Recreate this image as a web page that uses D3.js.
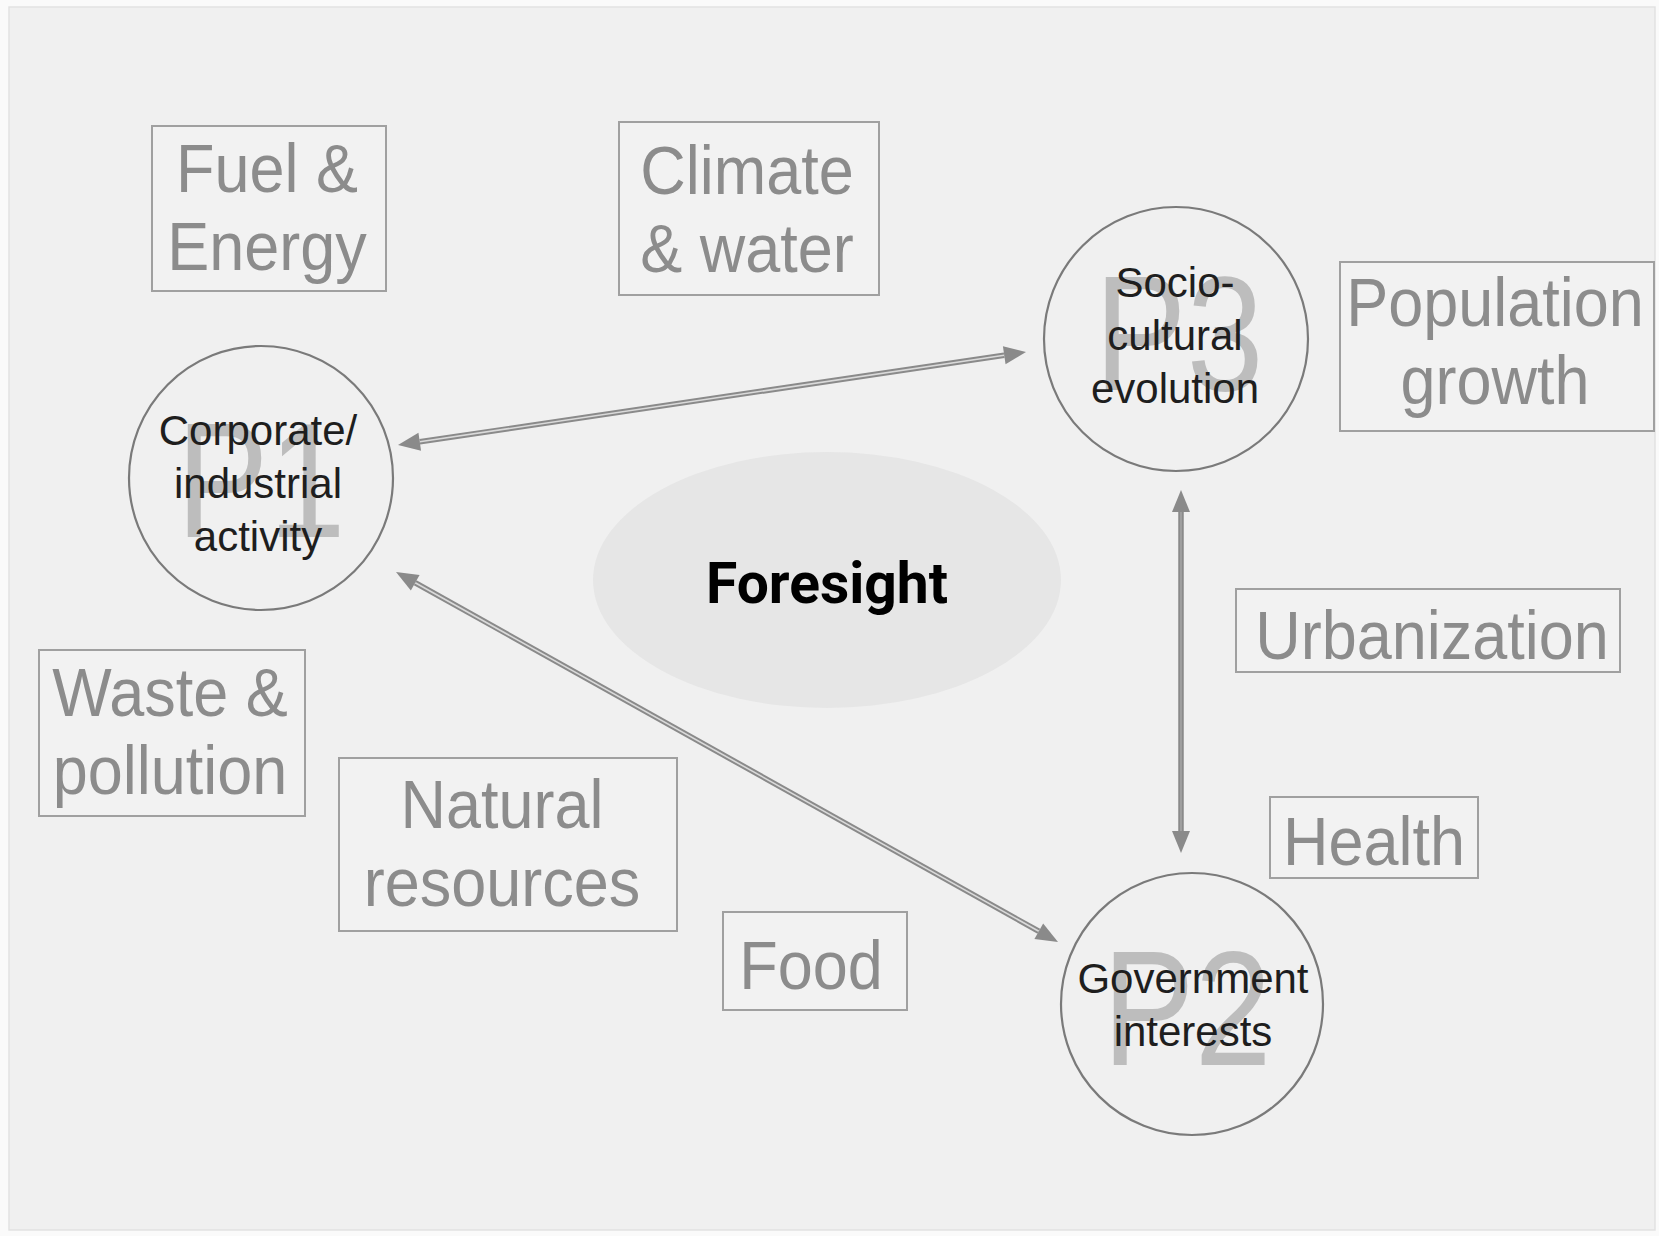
<!DOCTYPE html>
<html>
<head>
<meta charset="utf-8">
<script src="https://cdn.jsdelivr.net/npm/d3@7"></script>
<style>
  body { margin: 0; background: #fafafa; }
  svg { display: block; }
</style>
</head>
<body>
<div id="diagram"></div>
<script>
// diagram content
const factorLabels = [
    ["Fuel &", "Energy"],
    ["Climate", "& water"],
    ["Population", "growth"],
    ["Urbanization"],
    ["Health"],
    ["Waste &", "pollution"],
    ["Natural", "resources"],
    ["Food"]
];
const playerTags = ["P1", "P3", "P2"];
const playerLabels = [
    ["Corporate/", "industrial", "activity"],
    ["Socio-", "cultural", "evolution"],
    ["Government", "interests"]
];
const centreLabel = "Foresight";
// links between players (index into playerTags)
const links = [[0, 1], [0, 2], [1, 2]];

// layout, in reference units (1659 x 1236 canvas)
const boxLayout = [
    { x0: 152, y0: 126, x1: 386, y1: 291, cx: 267, base: 192 },
    { x0: 619, y0: 122, x1: 879, y1: 295, cx: 747, base: 194 },
    { x0: 1340, y0: 262, x1: 1654, y1: 431, cx: 1495, base: 326 },
    { x0: 1236, y0: 589, x1: 1620, y1: 672, cx: 1432, base: 659 },
    { x0: 1270, y0: 797, x1: 1478, y1: 878, cx: 1374, base: 865 },
    { x0: 39, y0: 650, x1: 305, y1: 816, cx: 170, base: 716 },
    { x0: 339, y0: 758, x1: 677, y1: 931, cx: 502, base: 828 },
    { x0: 723, y0: 912, x1: 907, y1: 1010, cx: 811, base: 989 }
];
const circleLayout = [
    { cx: 261, cy: 478, r: 132, tx: 258, ty: 445, px: 261, py: 537 },
    { cx: 1176, cy: 339, r: 132, tx: 1175, ty: 297, px: 1179, py: 390 },
    { cx: 1192, cy: 1004, r: 131, tx: 1193, ty: 993, px: 1187, py: 1065 }
];
const arrowLayout = [
    { x1: 398, y1: 445, x2: 1026, y2: 352 },
    { x1: 396, y1: 572, x2: 1058, y2: 942 },
    { x1: 1181, y1: 490, x2: 1181, y2: 853 }
];

const W = 1659, H = 1236;
const x = d3.scaleLinear().domain([0, 1659]).range([0, W]);
const y = d3.scaleLinear().domain([0, 1236]).range([0, H]);

const svg = d3.select("#diagram")
    .append("svg")
    .attr("width", W)
    .attr("height", H);

// panel
svg.append("rect")
    .attr("x", x(9)).attr("y", y(7))
    .attr("width", x(1655) - x(9)).attr("height", y(1230) - y(7))
    .attr("fill", "#f0f0f0")
    .attr("stroke", "#e2e2e2")
    .attr("stroke-width", 1.5);

// centre ellipse
svg.append("ellipse")
    .attr("cx", x(827)).attr("cy", y(580))
    .attr("rx", x(234) - x(0)).attr("ry", y(128) - y(0))
    .attr("fill", "#e6e6e6");

svg.append("text")
    .attr("x", x(827)).attr("y", y(603))
    .attr("text-anchor", "middle")
    .attr("font-family", "Roboto, 'Open Sans', sans-serif")
    .attr("font-weight", 700)
    .attr("font-size", 58)
    .attr("textLength", 242)
    .attr("lengthAdjust", "spacingAndGlyphs")
    .attr("fill", "#000")
    .text(centreLabel);

// factor boxes
const boxes = svg.selectAll(".factor")
    .data(factorLabels)
    .join("g")
    .attr("class", "factor");

boxes.append("rect")
    .attr("x", (d, i) => x(boxLayout[i].x0))
    .attr("y", (d, i) => y(boxLayout[i].y0))
    .attr("width", (d, i) => x(boxLayout[i].x1) - x(boxLayout[i].x0))
    .attr("height", (d, i) => y(boxLayout[i].y1) - y(boxLayout[i].y0))
    .attr("fill", "#f2f2f2")
    .attr("stroke", "#a0a0a0")
    .attr("stroke-width", 2);

boxes.each(function (lines, i) {
    const b = boxLayout[i];
    const t = d3.select(this).append("text")
        .attr("transform", `translate(${x(b.cx)},${y(b.base)}) scale(1,1.1)`)
        .attr("text-anchor", "middle")
        .attr("font-family", "'Liberation Sans', Arial, sans-serif")
        .attr("font-size", 63)
        .attr("fill", "#8c8c8c");
    lines.forEach((l, j) => {
        t.append("tspan").attr("x", 0).attr("y", j * 71).text(l);
    });
});

// arrows between players
function drawArrow(a) {
    const dx = x(a.x2) - x(a.x1), dy = y(a.y2) - y(a.y1);
    const len = Math.hypot(dx, dy), ux = dx / len, uy = dy / len;
    const head = 22, half = 9;
    const g = svg.append("g");
    const sx = x(a.x1) + ux * head, sy = y(a.y1) + uy * head;
    const ex = x(a.x2) - ux * head, ey = y(a.y2) - uy * head;
    g.append("line")
        .attr("x1", sx).attr("y1", sy).attr("x2", ex).attr("y2", ey)
        .attr("stroke", "#8a8a8a").attr("stroke-width", 5.5);
    g.append("line")
        .attr("x1", sx).attr("y1", sy).attr("x2", ex).attr("y2", ey)
        .attr("stroke", a.x1 === a.x2 ? "#a4a4a4" : "#dadada").attr("stroke-width", 1.6);
    const tip = (px, py, dirx, diry) => {
        const bx = px - dirx * head, by = py - diry * head;
        return [[px, py], [bx - diry * half, by + dirx * half], [bx + diry * half, by - dirx * half]];
    };
    [tip(x(a.x2), y(a.y2), ux, uy), tip(x(a.x1), y(a.y1), -ux, -uy)].forEach(p => {
        g.append("path")
            .attr("d", d3.line()(p) + "Z")
            .attr("fill", "#8a8a8a");
    });
}
links.forEach((l, i) => drawArrow(arrowLayout[i]));

// players
const players = svg.selectAll(".player")
    .data(playerTags)
    .join("g")
    .attr("class", "player");

players.append("circle")
    .attr("cx", (d, i) => x(circleLayout[i].cx))
    .attr("cy", (d, i) => y(circleLayout[i].cy))
    .attr("r", (d, i) => x(circleLayout[i].r) - x(0))
    .attr("fill", "none")
    .attr("stroke", "#7a7a7a")
    .attr("stroke-width", 2.2);

players.append("text")
    .attr("transform", (d, i) => `translate(${x(circleLayout[i].px)},${y(circleLayout[i].py)}) scale(1,1.18)`)
    .attr("text-anchor", "middle")
    .attr("font-family", "'Liberation Sans', Arial, sans-serif")
    .attr("font-size", 138)
    .attr("fill", "#bdbdbd")
    .text(d => d);

players.each(function (d, i) {
    const c = circleLayout[i];
    const t = d3.select(this).append("text")
        .attr("text-anchor", "middle")
        .attr("font-family", "'Liberation Sans', Arial, sans-serif")
        .attr("font-size", 42)
        .attr("fill", "#1e1e1e");
    playerLabels[i].forEach((l, j) => {
        t.append("tspan").attr("x", x(c.tx)).attr("y", y(c.ty) + j * 53).text(l);
    });
});
</script>
</body>
</html>
